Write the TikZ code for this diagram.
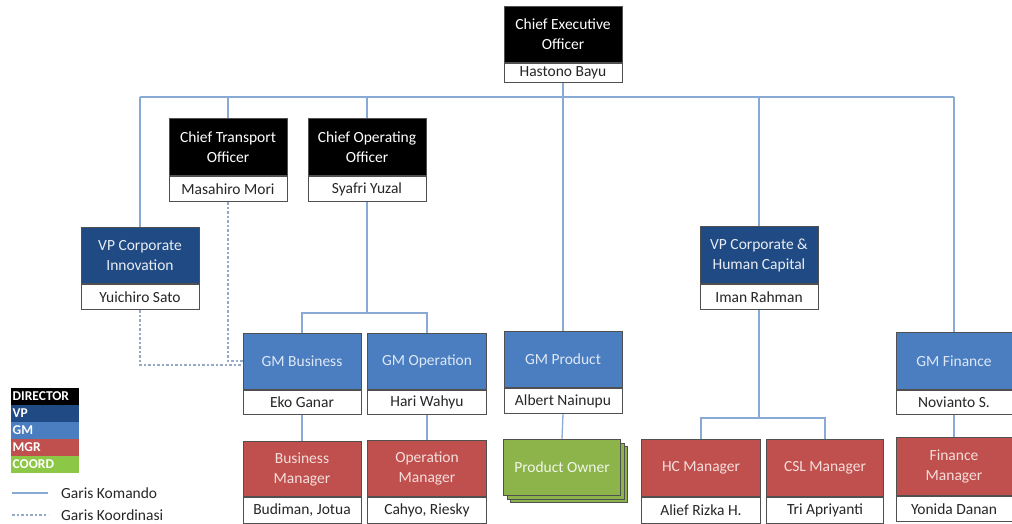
\documentclass[tikz,border=0pt]{standalone}
\usepackage{fontspec}
\setmainfont{Carlito}
\definecolor{vpblue}{RGB}{32,74,132}
\definecolor{gmblue}{RGB}{74,126,193}
\definecolor{mgrred}{RGB}{192,80,77}
\definecolor{pogreen}{RGB}{140,180,74}
\definecolor{coordgreen}{RGB}{140,200,70}
\definecolor{linecol}{RGB}{138,170,214}
\definecolor{dashcol}{RGB}{150,170,200}
\definecolor{bordercol}{RGB}{80,80,80}
\definecolor{gmtext}{RGB}{222,232,245}
\definecolor{mgrtext}{RGB}{245,222,220}
\begin{document}
\begin{tikzpicture}[x=1pt,y=-1pt,
  box/.style={draw=bordercol,line width=1pt,inner sep=0pt,align=center,font=\fontsize{15.5}{20}\selectfont},
  dirbox/.style={box,fill=black,text=white},
  vpbox/.style={box,fill=vpblue,text=white!90!vpblue},
  gmbox/.style={box,fill=gmblue,text=gmtext},
  mgrbox/.style={box,fill=mgrred,text=mgrtext},
  pobox/.style={box,fill=pogreen,text=white!88!pogreen},
  namebox/.style={box,fill=white,text=black!85},
  cmd/.style={draw=linecol,line width=1.3pt},
  coord/.style={draw=dashcol,line width=1.2pt,dashed,dash pattern=on 2.5pt off 2pt},
  legrow/.style={inner sep=0pt,minimum width=68,minimum height=16.6,anchor=north west,text width=65,align=left,font=\fontsize{13.5}{14}\selectfont\bfseries,text=white},
  legtext/.style={anchor=west,inner sep=0pt,font=\fontsize{15.5}{17}\selectfont,text=black!85}
]
\useasboundingbox (0,0) rectangle (1012,524);
\newcommand\rolebox[9]{%
  \node[#6,minimum width=#4,minimum height=#5,anchor=north] (#1) at (#2,#3) {#7};
  \node[namebox,minimum width=#4,minimum height=#9,anchor=north] (#1n) at (#1.south) {#8};
}
% coordinates for buses
\coordinate (bus) at (0,97);
\coordinate (cbus) at (0,313);
\coordinate (hbus) at (0,418);
\coordinate (dv) at (0,365);
\coordinate (dc) at (0,361);

\rolebox{ceo}{563}{6}{118}{56}{dirbox}{Chief Executive\\Officer}{Hastono Bayu}{19}
\rolebox{cto}{228}{118}{118}{57}{dirbox}{Chief Transport\\Officer}{Masahiro Mori}{25}
\rolebox{coo}{367}{118}{118}{57}{dirbox}{Chief Operating\\Officer}{Syafri Yuzal}{25}
\rolebox{vpi}{140}{227}{118}{56}{vpbox}{VP Corporate\\Innovation}{Yuichiro Sato}{25}
\rolebox{vph}{759}{226}{118}{57}{vpbox}{VP Corporate \&\\Human Capital}{Iman Rahman}{25}
\rolebox{gmb}{302}{333}{118}{56}{gmbox}{GM Business}{Eko Ganar}{24}
\rolebox{gmo}{427}{333}{119}{56}{gmbox}{GM Operation}{Hari Wahyu}{24}
\rolebox{gmp}{563}{331}{118}{56}{gmbox}{GM Product}{Albert Nainupu}{25}
\rolebox{gmf}{954}{332}{116}{57}{gmbox}{GM Finance}{Novianto S.}{24}
\rolebox{bm}{302}{441}{118}{55}{mgrbox}{Business\\Manager}{Budiman, Jotua}{26}
\rolebox{om}{427}{440}{119}{56}{mgrbox}{Operation\\Manager}{Cahyo, Riesky}{26}
\rolebox{hc}{701}{439}{119}{57}{mgrbox}{HC Manager}{Alief Rizka H.}{26}
\rolebox{csl}{825}{439}{117}{57}{mgrbox}{CSL Manager}{Tri Apriyanti}{26}
\rolebox{fm}{954}{437}{116}{58}{mgrbox}{Finance\\Manager}{Yonida Danan}{25}

% product owner stack
\node[pobox,minimum width=117,minimum height=56,anchor=north] (po3) at (569,446) {};
\node[pobox,minimum width=117,minimum height=56,anchor=north] (po2) at (565.5,442.5) {};
\node[pobox,minimum width=117,minimum height=56,anchor=north] (po) at (562,439) {Product Owner};

% command lines
\draw[cmd] (ceon.south) -- (ceon.south |- bus);
\draw[cmd] (vpi.north |- bus) -- (gmf.north |- bus);
\draw[cmd] (vpi.north |- bus) -- (vpi.north);
\draw[cmd] (cto.north |- bus) -- (cto.north);
\draw[cmd] (coo.north |- bus) -- (coo.north);
\draw[cmd] (gmp.north |- bus) -- (gmp.north);
\draw[cmd] (vph.north |- bus) -- (vph.north);
\draw[cmd] (gmf.north |- bus) -- (gmf.north);
\draw[cmd] (coon.south) -- (coon.south |- cbus);
\draw[cmd] (gmb.north) -- (gmb.north |- cbus) -- (gmo.north |- cbus) -- (gmo.north);
\draw[cmd] (gmbn.south) -- (bm.north);
\draw[cmd] (gmon.south) -- (om.north);
\draw[cmd] (gmpn.south) -- (po.north);
\draw[cmd] (vphn.south) -- (vphn.south |- hbus);
\draw[cmd] (hc.north) -- (hc.north |- hbus) -- (csl.north |- hbus) -- (csl.north);
\draw[cmd] (gmfn.south) -- (fm.north);

% coordination lines
\draw[coord] (vpin.south) -- (vpin.south |- dv) -- (gmb.west |- dv);
\draw[coord] (cton.south) -- (cton.south |- dc) -- (gmb.west |- dc);

% legend
\node[legrow,fill=black] (ldir) at (11,388) {DIRECTOR};
\node[legrow,fill=vpblue] (lvp) at (ldir.south west) {VP};
\node[legrow,fill=gmblue] (lgm) at (lvp.south west) {GM};
\node[legrow,fill=mgrred] (lmgr) at (lgm.south west) {MGR};
\node[legrow,fill=coordgreen] (lco) at (lmgr.south west) {COORD};
\coordinate (k1) at (12,493);
\coordinate (k2) at (48,493);
\coordinate (c1) at (12,515);
\coordinate (c2) at (48,515);
\draw[cmd] (k1) -- (k2);
\draw[coord] (c1) -- (c2);
\node[legtext] (lkom) at (61,493) {Garis Komando};
\node[legtext] (lkoo) at (61,515) {Garis Koordinasi};
\end{tikzpicture}
\end{document}
